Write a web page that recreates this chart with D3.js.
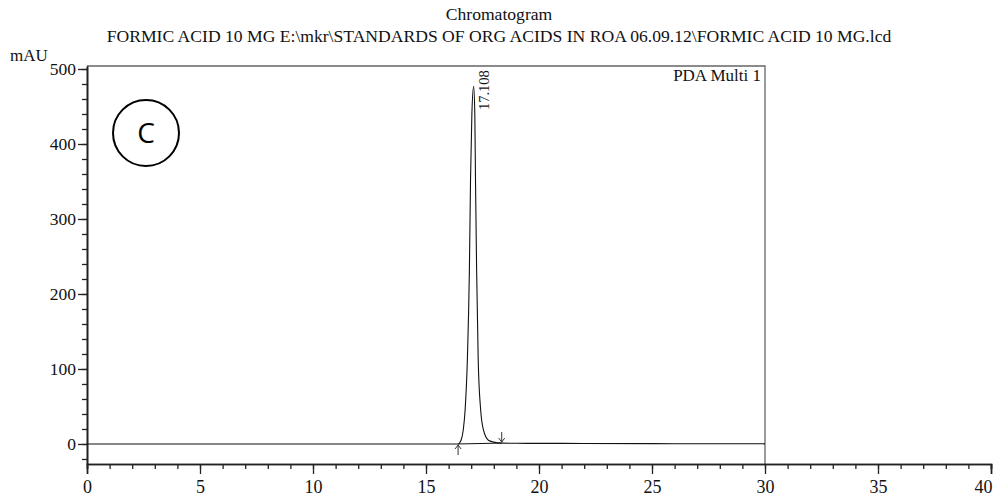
<!DOCTYPE html>
<html>
<head>
<meta charset="utf-8">
<script src="https://cdn.jsdelivr.net/npm/d3@7"></script>
<style>
  html, body { margin: 0; padding: 0; background: #fff; }
  svg { display: block; font-family: "Liberation Serif", "Times New Roman", serif; }
</style>
</head>
<body>
<div id="chart"></div>
<script>
// ── Data ──────────────────────────────────────────────────────────────────────

const titleLines = [
  'Chromatogram',
  'FORMIC ACID 10 MG E:\\mkr\\STANDARDS OF ORG ACIDS IN ROA 06.09.12\\FORMIC ACID 10 MG.lcd',
];
const channelName = 'PDA Multi 1';
const yUnit = 'mAU';

// retention time (min) and absorbance (mAU)
const times = [0, 5, 10, 15, 16.0, 16.42, 16.55, 16.65, 16.73, 16.83, 16.92, 16.97, 17.03,
  17.108, 17.16, 17.19, 17.24, 17.31, 17.42, 17.54, 17.76, 18.0, 18.35, 19, 20, 22, 25, 27, 30];
const mau = [0, 0, 0, 0, 0, 0, 5, 19, 45, 112, 232, 352, 440,
  477, 440, 352, 232, 112, 45, 19, 5, 2.5, 1.2, 0.9, 0.8, 0.7, 0.5, 0.3, 0.2];

const peakLabels = [{ t: 17.108, text: '17.108' }];
const peakStart = 16.42;
const peakEnd = 18.35;

const xMajor = [0, 5, 10, 15, 20, 25, 30, 35, 40];
const yMajor = [0, 100, 200, 300, 400, 500];

// ── Layout ────────────────────────────────────────────────────────────────────

const W = 999, H = 499;
const plotLeft = 87, plotRight = 991, plotTop = 66, plotBottom = 464;
const runEnd = 30;

const svg = d3.select('#chart').append('svg')
  .attr('width', W).attr('height', H);

const x = d3.scaleLinear().domain([0, 40]).range([plotLeft, plotRight]);
const y = d3.scaleLinear().domain([-26.7, 504]).range([plotBottom, plotTop]);

// ── Titles ────────────────────────────────────────────────────────────────────

svg.selectAll('text.title').data(titleLines).join('text')
  .attr('class', 'title')
  .attr('x', 499)
  .attr('y', (d, i) => 20 + i * 22)
  .attr('text-anchor', 'middle')
  .attr('font-size', '17.6px')
  .attr('fill', '#111')
  .text(d => d);

svg.append('text')
  .attr('x', 10).attr('y', 61)
  .attr('font-size', '17px')
  .attr('fill', '#111')
  .text(yUnit);

// ── Frame ─────────────────────────────────────────────────────────────────────

svg.append('path')
  .attr('d', `M${plotLeft},${plotTop}H${x(runEnd)}V${plotBottom}`)
  .attr('fill', 'none')
  .attr('stroke', '#666')
  .attr('stroke-width', 1.3);

svg.append('text')
  .attr('x', x(runEnd) - 4).attr('y', 81)
  .attr('text-anchor', 'end')
  .attr('font-size', '17px')
  .attr('fill', '#111')
  .text(channelName);

// ── Axes ──────────────────────────────────────────────────────────────────────

function styleAxis(g) {
  g.select('.domain').attr('stroke', '#222').attr('stroke-width', 1.6);
  g.selectAll('.tick line').attr('stroke', '#222').attr('stroke-width', 1.3);
  g.selectAll('.tick text')
    .attr('font-family', '"Liberation Serif", "Times New Roman", serif')
    .attr('font-size', '18px')
    .attr('fill', '#111');
}

// minor ticks first, majors on top
svg.append('g')
  .attr('transform', `translate(0,${plotBottom})`)
  .call(d3.axisBottom(x).tickValues(d3.range(0, 41, 1)).tickSize(5).tickFormat(''))
  .call(styleAxis);

svg.append('g')
  .attr('transform', `translate(0,${plotBottom})`)
  .call(d3.axisBottom(x).tickValues(xMajor).tickSize(10).tickPadding(6).tickFormat(d3.format('d')))
  .call(styleAxis)
  // last label is pulled inside the page edge
  .call(g => g.selectAll('.tick text').filter(d => d === 40).attr('text-anchor', 'end').attr('x', 1));

svg.append('g')
  .attr('transform', `translate(${plotLeft},0)`)
  .call(d3.axisLeft(y).tickValues(d3.range(-20, 501, 20)).tickSize(5).tickFormat('').tickSizeOuter(0))
  .call(styleAxis);

svg.append('g')
  .attr('transform', `translate(${plotLeft},0)`)
  .call(d3.axisLeft(y).tickValues(yMajor).tickSize(9).tickPadding(2).tickSizeOuter(0).tickFormat(d3.format('d')))
  .call(styleAxis)
  .call(g => g.selectAll('.tick text').attr('font-size', '17.5px'));

// ── Trace ─────────────────────────────────────────────────────────────────────

const points = times.map((t, i) => [t, mau[i]]);

const line = d3.line()
  .x(d => x(d[0]))
  .y(d => y(d[1]))
  .curve(d3.curveMonotoneX);

svg.append('path')
  .datum(points)
  .attr('d', line)
  .attr('fill', 'none')
  .attr('stroke', '#111')
  .attr('stroke-width', 1.1);

// integration baseline between the start/end markers
svg.append('line')
  .attr('x1', x(peakStart)).attr('y1', y(0))
  .attr('x2', x(peakEnd)).attr('y2', y(1.2))
  .attr('stroke', '#111').attr('stroke-width', 1);

// ── Peak markers ──────────────────────────────────────────────────────────────

function arrow(t, v, dir) {
  // dir = 1 : arrow from below pointing up; -1 : from above pointing down
  const px = x(t), py = y(v);
  const len = 11 * dir;
  const g = svg.append('g').attr('stroke', '#333').attr('stroke-width', 1).attr('fill', 'none');
  g.append('line').attr('x1', px).attr('y1', py + len).attr('x2', px).attr('y2', py + dir);
  g.append('path').attr('d', `M${px - 3},${py + 5 * dir}L${px},${py + dir}L${px + 3},${py + 5 * dir}`);
}

arrow(peakStart, 0, 1);
arrow(peakEnd, 1.2, -1);

peakLabels.forEach(p => {
  const px = x(p.t) + 15;
  const py = 110;
  svg.append('text')
    .attr('transform', `translate(${px},${py}) rotate(-90)`)
    .attr('font-size', '14.5px')
    .attr('fill', '#111')
    .text(p.text);
});

// ── Panel mark ────────────────────────────────────────────────────────────────

svg.append('circle')
  .attr('cx', 146).attr('cy', 133).attr('r', 33)
  .attr('fill', 'none')
  .attr('stroke', '#000')
  .attr('stroke-width', 2);

svg.append('text')
  .attr('x', 146).attr('y', 143)
  .attr('text-anchor', 'middle')
  .attr('font-family', '"Open Sans", "Noto Sans", sans-serif')
  .attr('font-size', '28px')
  .attr('fill', '#000')
  .text('C');
</script>
</body>
</html>
